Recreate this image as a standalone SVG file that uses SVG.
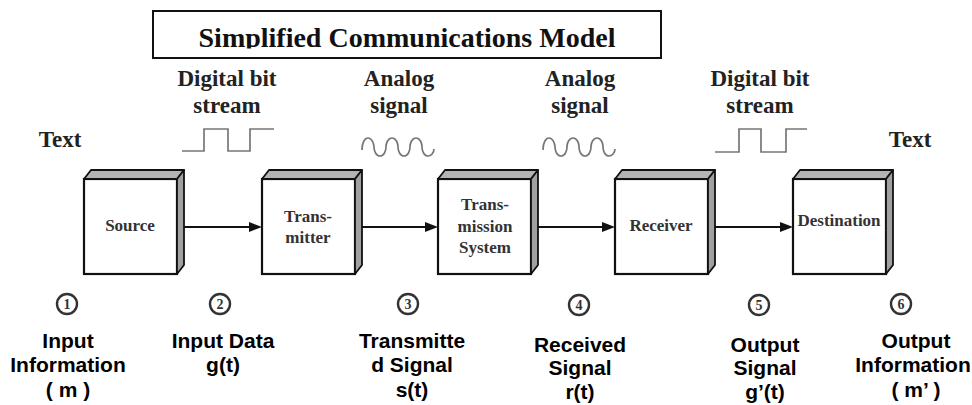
<svg xmlns="http://www.w3.org/2000/svg" width="972" height="405" viewBox="0 0 972 405">
<style>
.serif{font-family:"Liberation Serif","Times New Roman",serif;font-weight:bold;}
.lbl{font-family:"Liberation Serif","Times New Roman",serif;font-weight:bold;font-size:23px;fill:#222;text-anchor:middle;}
.box{font-family:"Liberation Serif","Times New Roman",serif;font-weight:bold;font-size:17px;fill:#333;text-anchor:middle;}
.front{fill:#fff;stroke:#111;stroke-width:2.2;}
.top{fill:#b4b4b4;stroke:#111;stroke-width:1.8;stroke-linejoin:round;}
.side{fill:#a0a0a0;stroke:#111;stroke-width:1.8;stroke-linejoin:round;}
.wave{fill:none;stroke:#777;stroke-width:1.7;}
.circ{fill:none;stroke:#333;stroke-width:2.4;}
.num{font-family:"Liberation Serif","Times New Roman",serif;font-size:14px;fill:#333;text-anchor:middle;font-weight:bold;}
.bot{font-family:"Liberation Sans",Arial,sans-serif;font-weight:bold;font-size:21px;fill:#000;text-anchor:middle;}
.conn{stroke:#111;stroke-width:2;fill:none;}
</style>
<defs>
<marker id="ah" viewBox="0 0 13 10" refX="9" refY="5" markerWidth="13" markerHeight="10" markerUnits="userSpaceOnUse" orient="auto">
<path d="M0,0 L13,5 L0,10 Z" fill="#111"/>
</marker>
<clipPath id="titleClip"><rect x="153" y="11" width="508" height="37.5"/></clipPath>
</defs>
<rect width="972" height="405" fill="#fff"/>

<g id="title">
<rect x="153" y="11" width="508" height="47" fill="#fff" stroke="#111" stroke-width="2"/>
<text class="serif" x="407" y="47" font-size="28" text-anchor="middle" fill="#111" clip-path="url(#titleClip)">Simplified Communications Model</text>
</g>

<g id="signal-labels">
<text class="lbl" x="60" y="147">Text</text>
<text class="lbl" x="227" y="86">Digital bit</text>
<text class="lbl" x="227" y="113">stream</text>
<text class="lbl" x="399" y="86">Analog</text>
<text class="lbl" x="399" y="113">signal</text>
<text class="lbl" x="580" y="86">Analog</text>
<text class="lbl" x="580" y="113">signal</text>
<text class="lbl" x="760" y="86">Digital bit</text>
<text class="lbl" x="760" y="113">stream</text>
<text class="lbl" x="910" y="147">Text</text>
</g>

<g id="waveforms">
<path class="wave" d="M182,151 H204 V129 H228 V151 H250 V129 H274"/>
<path class="wave" d="M362,150 c0,-8 3,-12 6,-12 c4,0 6,6 6,9 c0,4 2,9 6,9 c4,0 6,-5 6,-9 c0,-4 2,-9 6,-9 c4,0 6,5 6,9 c0,4 2,9 6,9 c4,0 6,-5 6,-9 c0,-4 2,-9 6,-9 c4,0 6,5 6,9 c0,4 2,9 6,9 c3,0 6,-3 6,-7"/>
<path class="wave" d="M543,150 c0,-8 3,-12 6,-12 c4,0 6,6 6,9 c0,4 2,9 6,9 c4,0 6,-5 6,-9 c0,-4 2,-9 6,-9 c4,0 6,5 6,9 c0,4 2,9 6,9 c4,0 6,-5 6,-9 c0,-4 2,-9 6,-9 c4,0 6,5 6,9 c0,4 2,9 6,9 c3,0 6,-3 6,-7"/>
<path class="wave" d="M715,152 H739 V129 H761 V152 H786 V129 H807"/>
</g>

<g id="connectors">
<line class="conn" x1="184" y1="227" x2="258" y2="227" marker-end="url(#ah)"/>
<line class="conn" x1="362" y1="227" x2="434" y2="227" marker-end="url(#ah)"/>
<line class="conn" x1="538" y1="227" x2="611" y2="227" marker-end="url(#ah)"/>
<line class="conn" x1="715" y1="227" x2="789" y2="227" marker-end="url(#ah)"/>
</g>

<g id="source">
<rect class="front" x="84" y="179" width="93" height="95"/>
<polygon class="top" points="84,179 91,170 184,170 177,179"/>
<polygon class="side" points="177,179 184,170 184,265 177,274"/>
<text class="box" x="130" y="231">Source</text>
</g>

<g id="transmitter">
<rect class="front" x="262" y="179" width="93" height="95"/>
<polygon class="top" points="262,179 269,170 362,170 355,179"/>
<polygon class="side" points="355,179 362,170 362,265 355,274"/>
<text class="box" x="308" y="222">Trans-</text>
<text class="box" x="308" y="243">mitter</text>
</g>

<g id="transmission-system">
<rect class="front" x="438" y="179" width="93" height="95"/>
<polygon class="top" points="438,179 445,170 538,170 531,179"/>
<polygon class="side" points="531,179 538,170 538,265 531,274"/>
<text class="box" x="485" y="210">Trans-</text>
<text class="box" x="485" y="232">mission</text>
<text class="box" x="485" y="253">System</text>
</g>

<g id="receiver">
<rect class="front" x="615" y="179" width="93" height="95"/>
<polygon class="top" points="615,179 622,170 715,170 708,179"/>
<polygon class="side" points="708,179 715,170 715,265 708,274"/>
<text class="box" x="661" y="231">Receiver</text>
</g>

<g id="destination">
<rect class="front" x="793" y="179" width="93" height="95"/>
<polygon class="top" points="793,179 800,170 893,170 886,179"/>
<polygon class="side" points="886,179 893,170 893,265 886,274"/>
<text class="box" x="839" y="226">Destination</text>
</g>

<g id="point-1">
<circle class="circ" cx="67" cy="304" r="10"/>
<text class="num" x="67" y="309">1</text>
<text class="bot" x="68" y="348">Input</text>
<text class="bot" x="68" y="372">Information</text>
<text class="bot" x="68" y="397">( m )</text>
</g>
<g id="point-2">
<circle class="circ" cx="220" cy="304" r="10"/>
<text class="num" x="220" y="309">2</text>
<text class="bot" x="223" y="348">Input Data</text>
<text class="bot" x="223" y="372">g(t)</text>
</g>
<g id="point-3">
<circle class="circ" cx="408" cy="304" r="10"/>
<text class="num" x="408" y="309">3</text>
<text class="bot" x="412" y="348">Transmitte</text>
<text class="bot" x="412" y="372">d Signal</text>
<text class="bot" x="412" y="397">s(t)</text>
</g>
<g id="point-4">
<circle class="circ" cx="579" cy="305" r="10"/>
<text class="num" x="579" y="310">4</text>
<text class="bot" x="580" y="352">Received</text>
<text class="bot" x="580" y="375">Signal</text>
<text class="bot" x="580" y="399">r(t)</text>
</g>
<g id="point-5">
<circle class="circ" cx="759" cy="305" r="10"/>
<text class="num" x="759" y="310">5</text>
<text class="bot" x="765" y="352">Output</text>
<text class="bot" x="765" y="375">Signal</text>
<text class="bot" x="765" y="399">g’(t)</text>
</g>
<g id="point-6">
<circle class="circ" cx="901" cy="304" r="10"/>
<text class="num" x="901" y="309">6</text>
<text class="bot" x="916" y="348">Output</text>
<text class="bot" x="913" y="372" font-size="19">Information</text>
<text class="bot" x="916" y="397">( m’ )</text>
</g>
</svg>
